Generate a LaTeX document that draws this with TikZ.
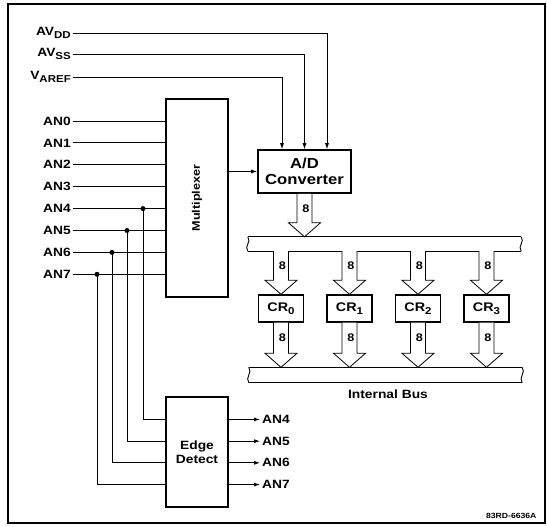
\documentclass[tikz,border=0pt]{standalone}
\usepackage{fontspec}
\setmainfont{Liberation Sans}[FakeStretch=1.15]
\usetikzlibrary{arrows.meta,positioning,calc}

% lowered subscript, nearly full size
\newcommand{\lowsub}[1]{\raisebox{-3.5pt}{\fontsize{10}{10}\selectfont #1}}

% hollow bus arrow: from #1 down to its tip #2, #3 = white overlap above the start
\newcommand{\fatarrow}[3]{%
  \fill[white] ($#1+(-7,-#3)$) rectangle ($#2+(7,-14)$);
  \draw[fatline] ($#1+(-7.5,0)$) -- ($#2+(-7.5,-14)$) -- ($#2+(-16,-14)$) -- #2
    -- ($#2+(16,-14)$) -- ($#2+(7.5,-14)$) -- ($#1+(7.5,0)$);
  \node[eight] at ($#1!0.5!#2+(1.5,-7)$) {8};
}

\begin{document}
\begin{tikzpicture}[x=1pt, y=-1pt,
  box/.style={draw, line width=1.6pt, inner sep=0pt, align=center, font=\fontsize{12}{14}\selectfont\bfseries},
  pin/.style={anchor=east, inner sep=2pt, font=\fontsize{12}{12}\selectfont\bfseries},
  outlab/.style={anchor=west, inner sep=2pt, font=\fontsize{12}{12}\selectfont\bfseries},
  sig/.style={line width=0.8pt},
  arr/.style={sig, -{Latex[length=6pt, width=4pt]}},
  tap/.style={circle, fill, inner sep=0pt, minimum size=5pt},
  bus/.style={inner sep=0pt, minimum width=273pt, minimum height=14pt},
  busline/.style={line width=0.9pt},
  fatline/.style={line width=0.8pt, fill=white},
  eight/.style={font=\fontsize{11}{11}\selectfont\bfseries, inner sep=0pt}
]
  \useasboundingbox (0,0) rectangle (547,527);
  \draw[line width=1.2pt] (8,4) rectangle (545,523);

  % blocks
  \node[box, minimum width=62pt, minimum height=198pt] (mux) at (197,198) {\rotatebox{90}{\fontsize{11}{12}\selectfont Multiplexer}};
  \node[box, minimum width=93pt, minimum height=43pt, font=\fontsize{14.5}{15.5}\selectfont\bfseries] (adc) at (304.5,171.5) {A/D\\Converter};
  \node[box, minimum width=62pt, minimum height=110pt] (edge) at (197,452) {Edge\\Detect};
  \foreach \i/\x in {0/281,1/349.5,2/418,3/486.5}
    \node[box, line width=1.4pt, minimum width=45pt, minimum height=27pt, font=\fontsize{12.5}{14}\selectfont\bfseries] (cr\i) at (\x,308.5) {CR\lowsub{\i}};

  % buses
  \node[bus] (bus1) at (384.5,244) {};
  \node[bus, minimum height=15pt] (bus2) at (385.5,375) {};
  \foreach \b in {bus1,bus2} {
    \draw[busline] (\b.north west) -- (\b.north east);
    \draw[busline] (\b.south west) -- (\b.south east);
    \draw[busline] (\b.north west) .. controls +(4,5) and +(-4,-5) .. (\b.south west);
    \draw[busline] (\b.north east) .. controls +(4,5) and +(-4,-5) .. (\b.south east);
  }
  \node[font=\fontsize{12}{12}\selectfont\bfseries] (buslabel) at (388,394) {Internal Bus};

  % supplies
  \node[pin] (vdd) at (73,33) {AV\lowsub{DD}};
  \node[pin] (vss) at (73,54) {AV\lowsub{SS}};
  \node[pin] (vref) at (73,77) {V\lowsub{AREF}};
  \draw[arr] (vdd.east) -| ([xshift=22.5pt]adc.north);
  \draw[arr] (vss.east) -| (adc.north);
  \draw[arr] (vref.east) -| ([xshift=-22.5pt]adc.north);

  % analog inputs
  \foreach \i in {0,...,7} {
    \node[pin] (an\i) at (73,{121+21.9*\i}) {AN\i};
    \draw[sig] (an\i.east) -- (an\i.east -| mux.west);
  }
  \draw[arr] (mux.east |- adc.west) -- (adc.west);

  % edge detect taps
  \foreach \i/\x in {4/143,5/127,6/112,7/97} {
    \node[tap] (tap\i) at (\x,{121+21.9*\i}) {};
    \node[outlab] (out\i) at (260,{452+(\i-5.5)*21.7}) {AN\i};
    \draw[sig] (tap\i.center) |- (edge.west |- out\i);
    \draw[arr] (edge.east |- out\i) -- (out\i.west);
  }

  % data paths
  \fatarrow{(adc.south)}{(adc.south |- bus1.north)}{0}
  \foreach \i in {0,...,3} {
    \fatarrow{(cr\i.north |- bus1.south)}{(cr\i.north)}{1.5}
    \fatarrow{(cr\i.south)}{(cr\i.south |- bus2.north)}{0}
  }

  \node[anchor=base east, font=\fontsize{7.5}{8}\selectfont\bfseries] (figno) at (540,518) {83RD-6636A};
\end{tikzpicture}
\end{document}
